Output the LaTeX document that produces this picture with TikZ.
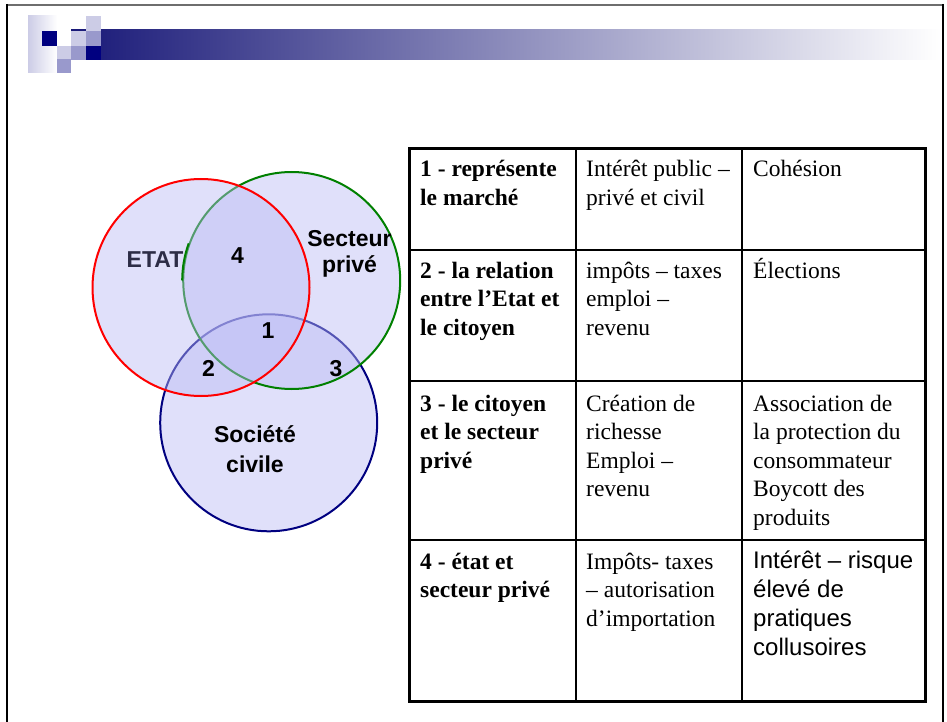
\documentclass[tikz,border=0pt]{standalone}
\usepackage{fontspec}
\setmainfont{Liberation Serif}
\newfontfamily\arialf{Liberation Sans}
\definecolor{navyb}{RGB}{0,0,128}
\definecolor{lav}{RGB}{204,204,230}
\definecolor{lavmid}{RGB}{153,153,204}
\definecolor{barleft}{RGB}{25,25,120}
\definecolor{barmid}{RGB}{140,140,168}
\definecolor{vennfill}{RGB}{188,188,245}
\definecolor{etatc}{RGB}{45,45,70}
\definecolor{greenc}{RGB}{0,128,0}
\definecolor{framegray}{RGB}{110,110,110}
\tikzset{
  venn/.style={circle, minimum size=217pt, inner sep=0pt, line width=2pt, fill=vennfill, fill opacity=0.45},
  vlab/.style={font=\arialf\bfseries\fontsize{23}{26}\selectfont, inner sep=0pt, anchor=base, align=center},
  tcell/.style={anchor=base west, inner sep=0pt, align=left, font=\fontsize{23.5}{28.5}\selectfont},
  tbold/.style={tcell, font=\bfseries\fontsize{23.5}{28.5}\selectfont},
  tarial/.style={tcell, font=\arialf\fontsize{24}{28.7}\selectfont},
  outerline/.style={line width=3pt},
  innerline/.style={line width=1.6pt}
}
\begin{document}
\begin{tikzpicture}[x=1pt,y=-1pt]
\useasboundingbox (0,0) rectangle (947,722);
\fill[white] (0,0) rectangle (947,722);
% frame
\draw[framegray, line width=2pt] (6,5) -- (944,5);
\draw[black, line width=2.5pt] (7,4) -- (7,722);
\draw[black, line width=2.5pt] (943,4) -- (943,722);
% header bar and logo
\shade[left color=barleft, middle color=barmid, right color=white] (71,30) rectangle (941,60);
\shade[left color=lav, right color=white] (28,16) rectangle (57,73);
\fill[navyb] (42,31) rectangle (57,46);
\fill[lav] (57,46) rectangle (71,59);
\fill[lavmid] (57,59) rectangle (71,73);
\fill[lav] (71,31) rectangle (86,46);
\fill[lavmid] (71,46) rectangle (86,60);
\fill[lav] (86,16) rectangle (101,31);
\fill[lavmid] (86,31) rectangle (101,46);
\fill[navyb] (86,46) rectangle (101,60);
% Venn
\node[venn, draw=navyb] (soc) at (268.7,422.8) {};
\node[venn, draw=greenc] (priv) at (291.7,280.5) {};
\node[venn, draw=red] (etat) at (201,287.5) {};
\node[vlab, text=etatc] (tetat) at (155,267) {ETAT};
\draw[greenc, line width=2pt] (priv.west) arc[start angle=180, end angle=160, radius=108.5pt];
\node[vlab] (n4) at (237.5,263) {4};
\node[vlab] (n1) at (268,338) {1};
\node[vlab] (n2) at (208.5,376) {2};
\node[vlab] (n3) at (336,376) {3};
\node[vlab] (tpriv) at (349.5,272) {Secteur\\priv\'e};
\node[vlab, font=\arialf\bfseries\fontsize{23}{30}\selectfont] (tsoc) at (255,472) {Soci\'et\'e\\civile};
% table
\draw[innerline] (576,149) -- (576,701);
\draw[innerline] (742,149) -- (742,701);
\draw[innerline] (409,250) -- (925,250);
\draw[innerline] (409,381) -- (925,381);
\draw[innerline] (409,540) -- (925,540);
\draw[outerline] (409,149) rectangle (925,701);
% row 1 (anchors at last baseline)
\node[tbold] (r1a) at (420,205.5) {1 - représente\\le marché};
\node[tcell] (r1b) at (586,205.5) {Intérêt public –\\privé et civil};
\node[tcell] (r1c) at (753,177) {Cohésion};
% row 2
\node[tbold] (r2a) at (420,335) {2 - la relation\\entre l’Etat et\\le citoyen};
\node[tcell] (r2b) at (586,335) {impôts – taxes\\emploi –\\revenu};
\node[tcell] (r2c) at (753,278) {Élections};
% row 3
\node[tbold] (r3a) at (420,468) {3 - le citoyen\\et le secteur\\privé};
\node[tcell] (r3b) at (586,496.5) {Création de\\richesse\\Emploi –\\revenu};
\node[tcell] (r3c) at (753,525) {Association de\\la protection du\\consommateur\\Boycott des\\produits};
% row 4
\node[tbold] (r4a) at (420,597.5) {4 - état et\\secteur privé};
\node[tcell] (r4b) at (586,626) {Impôts- taxes\\– autorisation\\d’importation};
\node[tarial] (r4c) at (753,655) {Intérêt – risque\\élevé de\\pratiques\\collusoires};
\end{tikzpicture}
\end{document}
